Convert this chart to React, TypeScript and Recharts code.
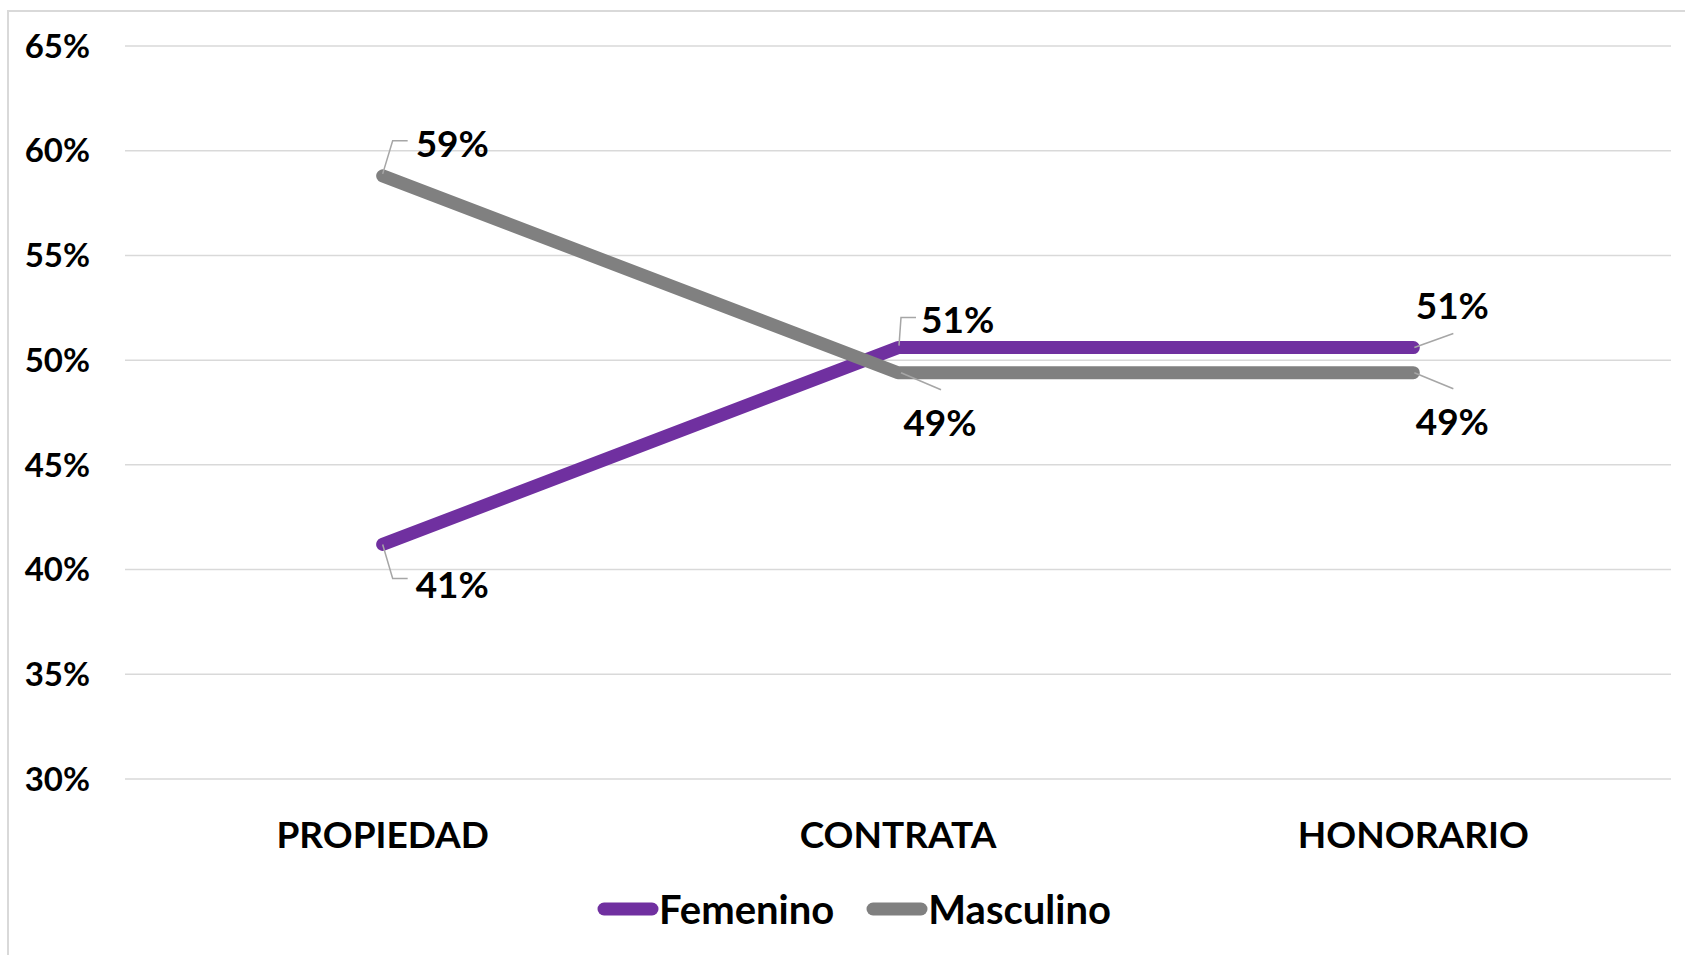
import React from "react";
import {
  CartesianGrid,
  Legend,
  Line,
  LineChart,
  LabelList,
  XAxis,
  YAxis,
} from "recharts";

const categories = ["PROPIEDAD", "CONTRATA", "HONORARIO"];
const femenino = [41.2, 50.6, 50.6];
const masculino = [58.8, 49.4, 49.4];
const yTicks = [30, 35, 40, 45, 50, 55, 60, 65];

const PURPLE = "#7030a0";
const GRAY = "#808080";
const FONT = "Lato, 'Open Sans', sans-serif";

const W = 1685;
const H = 955;
// plot box: x 125..1671, y 46..779
const PLOT_LEFT = 125;
const PLOT_RIGHT = 1671;
const PLOT_BOTTOM = 779;
const X_AXIS_H = 30;
const HALF_BAND = (PLOT_RIGHT - PLOT_LEFT) / categories.length / 2;

const data = categories.map((c, i) => ({
  cat: c,
  Femenino: femenino[i],
  Masculino: masculino[i],
}));

type LabelLayout = {
  leader: [number, number][];
  tx: number;
  ty: number;
  anchor: "start" | "middle" | "end";
};

// leader line + text offsets relative to each data point (Excel-style callouts)
const femLabels: LabelLayout[] = [
  { leader: [[0, 0], [10, 34], [25, 34]], tx: 33, ty: 39, anchor: "start" },
  { leader: [[1, -2], [3, -30], [18, -30]], tx: 23, ty: -29, anchor: "start" },
  { leader: [[1, 0], [40, -14]], tx: 39, ty: -43, anchor: "middle" },
];
const mascLabels: LabelLayout[] = [
  { leader: [[0, -2], [10, -35], [25, -35]], tx: 33, ty: -33, anchor: "start" },
  { leader: [[3, 0], [43, 17]], tx: 42, ty: 49, anchor: "middle" },
  { leader: [[1, 0], [40, 16]], tx: 39, ty: 48, anchor: "middle" },
];

function makeLabel(layouts: LabelLayout[]) {
  return (props: any) => {
    const { x, y, value, index } = props;
    const l = layouts[index];
    if (!l || x == null || y == null) return null;
    const pts = l.leader.map(([dx, dy]) => `${x + dx},${y + dy}`).join(" ");
    return (
      <g>
        <polyline points={pts} fill="none" stroke="#a6a6a6" strokeWidth={1.5} />
        <text
          x={x + l.tx}
          y={y + l.ty}
          textAnchor={l.anchor}
          dominantBaseline="central"
          fontFamily={FONT}
          fontWeight={700}
          fontSize={37}
          fill="#000"
        >
          {`${Math.round(Number(value))}%`}
        </text>
      </g>
    );
  };
}

function LegendContent() {
  const items = [
    { name: "Femenino", color: PURPLE },
    { name: "Masculino", color: GRAY },
  ];
  return (
    <div style={{ display: "flex", alignItems: "center", fontFamily: FONT }}>
      {items.map((it, i) => (
        <div
          key={it.name}
          style={{
            display: "flex",
            alignItems: "center",
            marginLeft: i === 0 ? 0 : 32,
          }}
        >
          <svg width={62} height={16}>
            <line
              x1={7}
              y1={8}
              x2={55}
              y2={8}
              stroke={it.color}
              strokeWidth={13}
              strokeLinecap="round"
            />
          </svg>
          <span
            style={{
              fontSize: 40,
              fontWeight: 700,
              color: "#000",
              lineHeight: "48px",
            }}
          >
            {it.name}
          </span>
        </div>
      ))}
    </div>
  );
}

export default function App() {
  return (
    <div
      style={{
        position: "absolute",
        left: 0,
        top: 0,
        width: W,
        height: H,
        background: "#fff",
        overflow: "hidden",
      }}
    >
      <div
        style={{
          position: "absolute",
          left: 7,
          top: 10,
          width: W,
          height: H,
          borderLeft: "2px solid #d9d9d9",
          borderTop: "2px solid #d9d9d9",
        }}
      />
      <LineChart
        width={W}
        height={H}
        data={data}
        margin={{
          top: 46,
          right: W - PLOT_RIGHT,
          left: 0,
          bottom: H - PLOT_BOTTOM - X_AXIS_H,
        }}
        style={{ position: "absolute", left: 0, top: 0 }}
      >
        <CartesianGrid vertical={false} stroke="#d9d9d9" strokeWidth={1.5} />
        <XAxis
          dataKey="cat"
          height={X_AXIS_H}
          padding={{ left: HALF_BAND, right: HALF_BAND }}
          axisLine={false}
          tickLine={false}
          tickSize={0}
          tickMargin={43}
          interval={0}
          tick={{
            fill: "#000",
            fontSize: 37,
            fontWeight: 700,
            fontFamily: FONT,
          }}
        />
        <YAxis
          width={PLOT_LEFT}
          domain={[30, 65]}
          ticks={yTicks}
          allowDataOverflow
          axisLine={false}
          tickLine={false}
          tickSize={0}
          tickMargin={35}
          tickFormatter={(v) => `${v}%`}
          tick={{
            fill: "#000",
            fontSize: 33,
            fontWeight: 700,
            fontFamily: FONT,
          }}
        />
        <Legend
          verticalAlign="middle"
          align="center"
          content={() => <LegendContent />}
          wrapperStyle={{ position: "absolute", top: 885, left: 597, width: "auto" }}
        />
        <Line
          dataKey="Femenino"
          stroke={PURPLE}
          strokeWidth={13}
          strokeLinecap="round"
          strokeLinejoin="round"
          dot={false}
          isAnimationActive={false}
        >
          <LabelList dataKey="Femenino" content={makeLabel(femLabels)} />
        </Line>
        <Line
          dataKey="Masculino"
          stroke={GRAY}
          strokeWidth={13}
          strokeLinecap="round"
          strokeLinejoin="round"
          dot={false}
          isAnimationActive={false}
        >
          <LabelList dataKey="Masculino" content={makeLabel(mascLabels)} />
        </Line>
      </LineChart>
    </div>
  );
}
